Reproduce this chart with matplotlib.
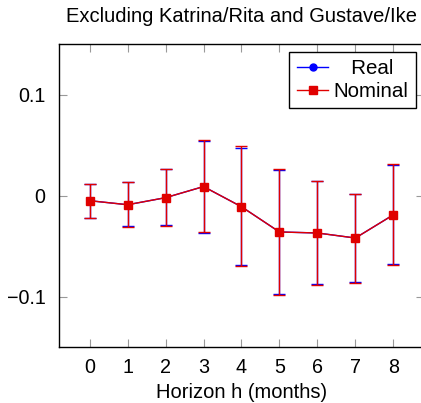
import matplotlib
matplotlib.use("Agg")
import matplotlib.pyplot as plt
from matplotlib.lines import Line2D
import numpy as np

plt.rcParams['font.family'] = ['Liberation Sans', 'DejaVu Sans']

horizon = [0, 1, 2, 3, 4, 5, 6, 7, 8]

# point estimates and confidence band ends
real_mid = [-0.005, -0.009, -0.002, 0.009, -0.011, -0.036, -0.037, -0.042, -0.019]
real_hi = [0.012, 0.014, 0.026, 0.054, 0.047, 0.025, 0.015, 0.002, 0.030]
real_lo = [-0.022, -0.030, -0.029, -0.037, -0.069, -0.097, -0.088, -0.086, -0.068]

nom_mid = [-0.005, -0.009, -0.002, 0.009, -0.011, -0.036, -0.037, -0.042, -0.019]
nom_hi = [0.012, 0.014, 0.026, 0.055, 0.049, 0.026, 0.015, 0.002, 0.031]
nom_lo = [-0.022, -0.031, -0.030, -0.036, -0.070, -0.098, -0.089, -0.087, -0.069]

W, H = 421, 403
fig = plt.figure(figsize=(W / 100, H / 100), dpi=100)
ax = fig.add_axes([59.3 / W, 1 - 347 / H, (423.7 - 59.3) / W, (347 - 44.3) / H])

def draw(mid, lo, hi, color, marker, ms):
    mid = np.array(mid)
    err = [mid - np.array(lo), np.array(hi) - mid]
    ax.errorbar(horizon, mid, yerr=err, color=color, ecolor=color, marker=marker,
                markersize=ms, linewidth=1.0, elinewidth=1.0, capsize=4,
                capthick=1.0)

draw(real_mid, real_lo, real_hi, '#0000ff', 'o', 5)
draw(nom_mid, nom_lo, nom_hi, '#e00000', 's', 5.5)

ax.set_xlim(-0.8, 8.8)
ax.set_ylim(-0.15, 0.15)
ax.set_xticks(horizon)
ax.set_yticks([-0.1, 0, 0.1])
ax.set_yticklabels(['\u22120.1', '0', '0.1'])
ax.tick_params(direction='in', length=6, color='#999999', labelsize=14.2,
               top=True, right=True)
ax.tick_params(axis='y', pad=10)
ax.tick_params(axis='x', pad=8)
for s in ax.spines.values():
    s.set_linewidth(1.0)

ax.set_xlabel('Horizon h (months)', fontsize=14.5, labelpad=4)
ax.set_title('Excluding Katrina/Rita and Gustave/Ike', fontsize=14.5, pad=16)

handles = [Line2D([], [], color='#0000ff', marker='o', markersize=5, linewidth=1.0),
           Line2D([], [], color='#e00000', marker='s', markersize=5.5, linewidth=1.0)]
leg = ax.legend(handles, ['   Real', 'Nominal'], loc='upper right',
                bbox_to_anchor=(415.7 / W, 1 - 51.7 / H),
                bbox_transform=fig.transFigure, borderaxespad=0, fontsize=14.8,
                fancybox=False, framealpha=1, edgecolor='black',
                handlelength=1.55, handletextpad=0.25, borderpad=0.35,
                labelspacing=0.2)
leg.get_frame().set_linewidth(1.0)

fig.savefig('out.png', dpi=100)
